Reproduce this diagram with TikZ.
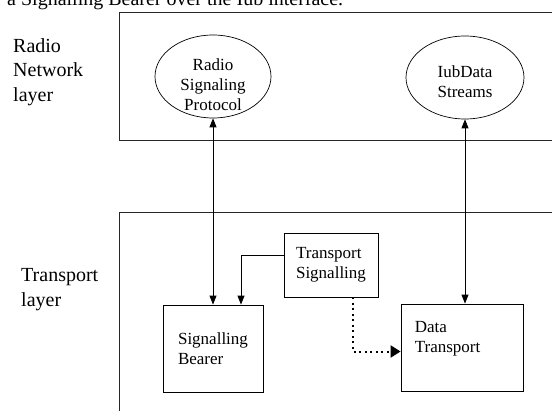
\documentclass[tikz,border=0pt]{standalone}
\usepackage{fontspec}
\setmainfont{Liberation Serif}
\usetikzlibrary{arrows.meta,shapes.geometric}
\def\bigtext{\fontsize{20}{25}\selectfont}
\def\smalltext{\fontsize{17}{20}\selectfont}
\colorlet{frame edge}{black!85}
\tikzset{layerframe/.style={draw=frame edge, line width=0.8pt},
	proto/.style={ellipse, draw, line width=0.7pt, inner sep=0pt, minimum height=83pt},
	unit/.style={draw, line width=0.8pt, align=left, font=\smalltext, inner sep=0pt},
	inner/.style={font=\smalltext, align=center, inner sep=0pt},
	sidelabel/.style={anchor=base west, align=left, font=\bigtext, inner sep=0pt},
	link/.style={line width=0.8pt, -{Triangle[length=9pt,width=7pt]}},
	bilink/.style={line width=0.8pt, {Triangle[length=9pt,width=7pt]}-{Triangle[length=9pt,width=7pt]}},
	hint/.style={line width=2pt, dash pattern=on 2pt off 3.5pt, -{Triangle[length=10pt,width=12pt]}}}

\begin{document}
\begin{tikzpicture}[x=1pt, y=-1pt]
		\useasboundingbox (0,0) rectangle (552,412);
		\node[anchor=base west, font=\bigtext, inner sep=0pt] (caption) at (7,5.5) {a Signalling Bearer over the Iub interface.};
		
		\draw[layerframe] (553,12) -- (119,12) -- (119,140) -- (553,140);
		\draw[layerframe] (553,212) -- (119,212) -- (119,411);
		\node[sidelabel] (rnl) at (13,102) {Radio\\Network\\layer};
		\node[sidelabel] (tl) at (21,306) {Transport\\layer};
		
		\node[proto, minimum width=116pt, label={[inner, yshift=-8pt]center:Radio\\Signaling\\Protocol}] (rsp) at (213,76.5) {};
		\node[proto, minimum width=118pt, label={[inner, yshift=-4pt]center:IubData\\Streams}] (ids) at (465,77.5) {};
		
		\node[unit, minimum width=100pt, minimum height=87pt] (sb) at (213,348.5) {Signalling\\Bearer};
		\node[unit, minimum width=94pt, minimum height=64pt] (ts) at (331,265) {Transport\\Signalling};
		\node[unit, minimum width=122pt, minimum height=87pt,
			label={[inner, align=left, anchor=north west, xshift=14pt, yshift=-18pt]north west:Data\\Transport}] (dt) at (462,347.5) {};
		
		\draw[bilink] (rsp.south) -- (rsp.south |- sb.north);
		\draw[bilink] (ids.south) -- (ids.south |- dt.north);
		\draw[link] ([yshift=10pt]ts.west) -| ([xshift=28pt]sb.north);
		\draw[hint] ([xshift=22pt]ts.south) |- ([yshift=-4pt]dt.west);
\end{tikzpicture}
\end{document}
